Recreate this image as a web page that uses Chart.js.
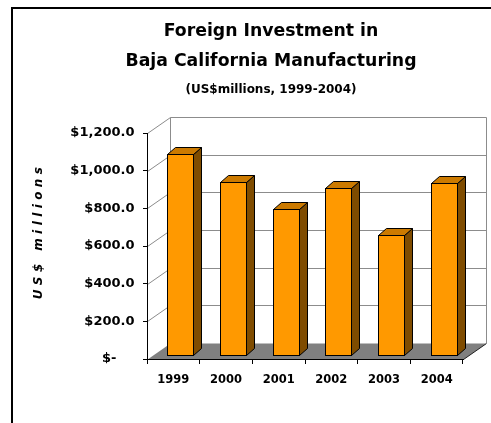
<!DOCTYPE html>
<html>
<head>
<meta charset="utf-8">
<script src="https://cdn.jsdelivr.net/npm/chart.js@4.4.1/dist/chart.umd.min.js"></script>
<style>
html,body{margin:0;padding:0;background:#fff;}
canvas{display:block;}
</style>
</head>
<body>
<canvas id="c" width="491" height="423"></canvas>
<script>
// ---- data ----
const categories = ['1999', '2000', '2001', '2002', '2003', '2004'];
const investment = [1065, 920, 774, 885, 638, 915];
const yTickValues = [0, 200, 400, 600, 800, 1000, 1200];
const yTickLabels = ['$-\u2007\u2007', '$200.0', '$400.0', '$600.0', '$800.0', '$1,000.0', '$1,200.0'];
const titleLines = ['Foreign Investment in', 'Baja California Manufacturing'];
const subtitleText = '(US$millions, 1999-2004)';
const yAxisTitle = 'US$ millions';

// ---- 3D look (styling) ----
const WALL_DX = 23, WALL_DY = -16;
const BAR_OX = 7, BAR_OY = -4, BAR_DX = 8, BAR_DY = -7;
const FONT = 'DejaVu Sans';

const scene3d = {
  id: 'scene3d',
  beforeDraw(chart) {
    const ctx = chart.ctx, a = chart.chartArea, y = chart.scales.y;
    ctx.save();
    ctx.fillStyle = '#ffffff';
    ctx.fillRect(0, 0, chart.width, chart.height);
    // outer frame
    ctx.strokeStyle = '#000';
    ctx.lineWidth = 2;
    ctx.beginPath();
    ctx.moveTo(12, chart.height + 4);
    ctx.lineTo(12, 8);
    ctx.lineTo(chart.width + 4, 8);
    ctx.stroke();

    const y0 = Math.round(y.getPixelForValue(0)) + 0.5;
    const yTop = Math.round(y.getPixelForValue(y.max)) + 0.5;
    const L = Math.round(a.left) + 0.5, R = Math.round(a.right) + 0.5;
    // floor
    ctx.fillStyle = '#808080';
    ctx.beginPath();
    ctx.moveTo(L, y0);
    ctx.lineTo(R, y0);
    ctx.lineTo(R + WALL_DX, y0 + WALL_DY);
    ctx.lineTo(L + WALL_DX, y0 + WALL_DY);
    ctx.closePath();
    ctx.fill();
    ctx.lineWidth = 1;
    ctx.strokeStyle = '#222';
    ctx.beginPath();
    ctx.moveTo(R, y0);
    ctx.lineTo(R + WALL_DX, y0 + WALL_DY);
    ctx.stroke();
    // walls + gridlines
    ctx.strokeStyle = '#8c8c8c';
    ctx.beginPath();
    y.ticks.forEach(t => {
      if (t.value <= 0) return;
      const py = Math.round(y.getPixelForValue(t.value)) + 0.5;
      ctx.moveTo(L, py);
      ctx.lineTo(L + WALL_DX, py + WALL_DY);
      ctx.lineTo(R + WALL_DX, py + WALL_DY);
    });
    ctx.moveTo(L + WALL_DX, yTop + WALL_DY);
    ctx.lineTo(L + WALL_DX, y0 + WALL_DY);
    ctx.moveTo(R + WALL_DX, yTop + WALL_DY);
    ctx.lineTo(R + WALL_DX, y0 + WALL_DY);
    ctx.stroke();

    // y axis title (letter-spaced, rotated)
    ctx.fillStyle = '#000';
    ctx.font = 'italic bold 12px "' + FONT + '"';
    if ('letterSpacing' in ctx) ctx.letterSpacing = '4.4px';
    ctx.translate(41.5, (a.top + a.bottom) / 2 - 15);
    ctx.rotate(-Math.PI / 2);
    ctx.textAlign = 'center';
    ctx.textBaseline = 'alphabetic';
    ctx.fillText(yAxisTitle, 0, 0);
    ctx.restore();
  },
  beforeDatasetDraw(chart, args) {
    const ctx = chart.ctx;
    const ds = chart.data.datasets[args.index];
    ctx.save();
    ctx.lineWidth = 1;
    ctx.strokeStyle = '#000';
    ctx.lineJoin = 'miter';
    args.meta.data.forEach(bar => {
      const p = bar.getProps(['x', 'y', 'base', 'width'], true);
      const l = Math.round(p.x - p.width / 2 + BAR_OX) + 0.5;
      const r = Math.round(p.x + p.width / 2 + BAR_OX) + 0.5;
      const t = Math.round(p.y + BAR_OY) + 0.5;
      const b = Math.round(p.base + BAR_OY) + 0.5;
      // side face
      ctx.fillStyle = ds.sideColor;
      ctx.beginPath();
      ctx.moveTo(r, t); ctx.lineTo(r + BAR_DX, t + BAR_DY);
      ctx.lineTo(r + BAR_DX, b + BAR_DY); ctx.lineTo(r, b);
      ctx.closePath(); ctx.fill(); ctx.stroke();
      // top face
      ctx.fillStyle = ds.topColor;
      ctx.beginPath();
      ctx.moveTo(l, t); ctx.lineTo(l + BAR_DX, t + BAR_DY);
      ctx.lineTo(r + BAR_DX, t + BAR_DY); ctx.lineTo(r, t);
      ctx.closePath(); ctx.fill(); ctx.stroke();
      // front face
      ctx.fillStyle = ds.backgroundColor;
      ctx.fillRect(l, t, r - l, b - t);
      ctx.strokeRect(l, t, r - l, b - t);
    });
    ctx.restore();
    return false;
  }
};

new Chart(document.getElementById('c'), {
  type: 'bar',
  data: {
    labels: categories,
    datasets: [{
      label: 'Foreign investment (US$ millions)',
      data: investment,
      backgroundColor: '#FF9900',
      topColor: '#CC7A00',
      sideColor: '#7F4C00',
      borderColor: '#000',
      borderWidth: 1,
      categoryPercentage: 1,
      barPercentage: 0.494
    }]
  },
  options: {
    responsive: false,
    animation: false,
    devicePixelRatio: 1,
    layout: { padding: { left: 51, right: 0, top: 0, bottom: 0 } },
    plugins: {
      legend: { display: false },
      tooltip: { enabled: false },
      title: {
        display: true, text: titleLines, color: '#000',
        font: { family: FONT, weight: 'bold', size: 17.3, lineHeight: '30px' },
        padding: { top: 16.5, bottom: 0 }
      },
      subtitle: {
        display: true, text: subtitleText, color: '#000',
        font: { family: FONT, weight: 'bold', size: 12, lineHeight: 1.2 },
        padding: { top: 6.3, bottom: 35.8 }
      }
    },
    scales: {
      x: {
        offset: true,
        grid: { display: true, drawOnChartArea: false, drawTicks: true, tickLength: 5, color: '#000', offset: true },
        border: { display: true, color: '#000', width: 1 },
        ticks: { color: '#000', font: { family: FONT, weight: 'bold', size: 11.5 }, padding: 9, maxRotation: 0 },
        afterFit(s) { s.height = 64; }
      },
      y: {
        min: 0, max: 1200,
        afterBuildTicks(s) { s.ticks = yTickValues.map(v => ({ value: v })); },
        grid: { display: true, drawOnChartArea: false, drawTicks: true, tickLength: 4, color: '#000' },
        border: { display: true, color: '#000', width: 1 },
        ticks: {
          color: '#000', padding: 8.5,
          font: { family: FONT, weight: 'bold', size: 13 },
          callback: (v) => yTickLabels[yTickValues.indexOf(v)]
        },
        afterFit(s) { s.width = 96; }
      },
      depthSpace: {
        position: 'right',
        display: true,
        grid: { display: false, drawTicks: false },
        border: { display: false },
        ticks: { display: false },
        afterFit(s) { s.width = 28; }
      }
    }
  },
  plugins: [scene3d]
});
</script>
</body>
</html>
